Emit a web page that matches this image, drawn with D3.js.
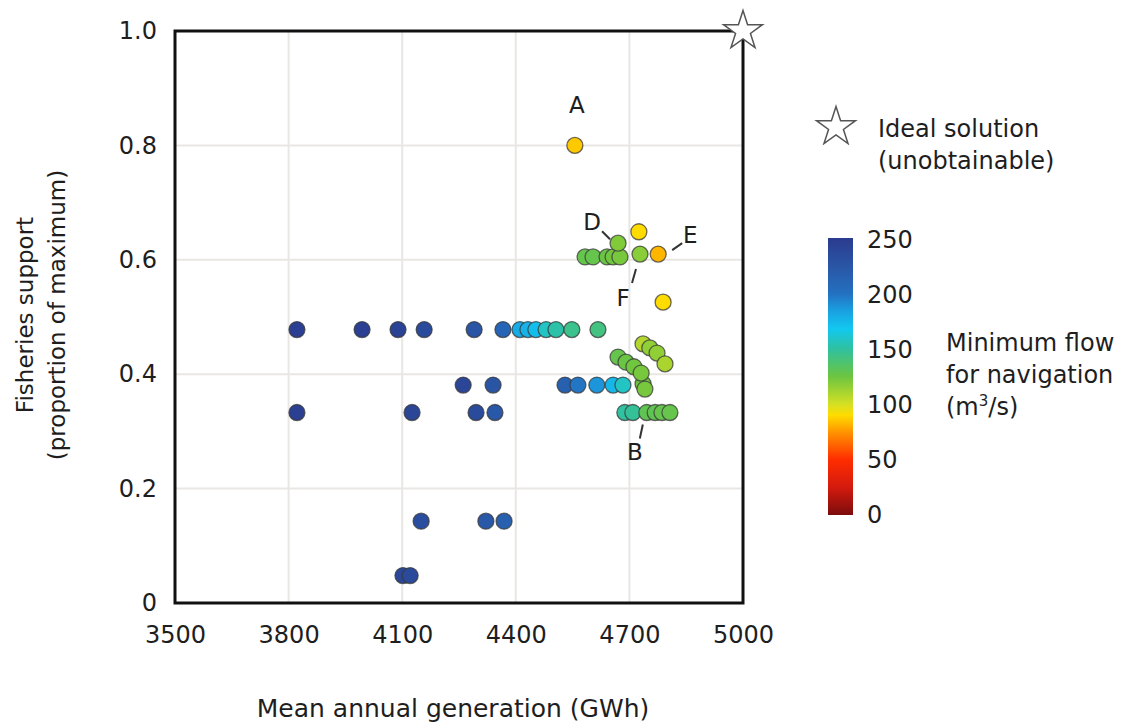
<!DOCTYPE html>
<html>
<head>
<meta charset="utf-8">
<script src="https://cdn.jsdelivr.net/npm/d3@7"></script>
<style>
    body { margin: 0; background: #fff; }
    svg text { font-family: "DejaVu Sans", sans-serif; fill: #1e1e1e; }
</style>
</head>
<body>
<div id="chart"></div>
<script>
// Mean annual generation (GWh) for each solution
const generation = [
    3822, 3994, 4089, 4158, 4290, 4366, 4411, 4432, 4453, 4480, 4506, 4548, 4617,
    4261, 4340, 4530, 4564, 4614, 4657, 4683, 4736, 4741,
    4670, 4691, 4712, 4731,
    4736, 4754, 4773, 4794,
    3822, 4126, 4295, 4345, 4688, 4709, 4746, 4768, 4786, 4807,
    4150, 4321, 4369,
    4102, 4121,
    4583, 4604, 4641, 4657, 4675, 4670, 4728, 4776, 4725, 4789,
    4556
];

// Fisheries support (proportion of maximum)
const fisheries = [
    0.478, 0.478, 0.478, 0.478, 0.478, 0.478, 0.478, 0.478, 0.478, 0.478, 0.478, 0.478, 0.478,
    0.381, 0.381, 0.381, 0.381, 0.381, 0.381, 0.381, 0.383, 0.374,
    0.430, 0.421, 0.413, 0.402,
    0.453, 0.446, 0.437, 0.418,
    0.333, 0.333, 0.333, 0.333, 0.333, 0.333, 0.333, 0.333, 0.333, 0.333,
    0.143, 0.143, 0.143,
    0.048, 0.048,
    0.605, 0.605, 0.605, 0.605, 0.605, 0.629, 0.610, 0.610, 0.649, 0.526,
    0.800
];

// Minimum flow for navigation (m3/s)
const minFlow = [
    245, 245, 242, 235, 225, 210, 180, 177, 172, 158, 152, 145, 142,
    240, 225, 215, 198, 188, 175, 158, 125, 122,
    128, 126, 124, 122,
    108, 116, 116, 110,
    245, 240, 235, 222, 150, 148, 130, 130, 128, 128,
    232, 222, 215,
    238, 235,
    128, 128, 126, 124, 122, 120, 118, 82, 90, 90,
    86
];

const xTicks = [3500, 3800, 4100, 4400, 4700, 5000];
const yTicks = [0, 0.2, 0.4, 0.6, 0.8, 1.0];
const flowTicks = [0, 50, 100, 150, 200, 250];

// Colour map of the flow bar (jet-like)
const colorStops = [0, 25, 50, 75, 90, 100, 125, 150, 168, 185, 200, 225, 250];
const colorHex = ["#7b0c0c", "#d41a0e", "#ff2d00", "#ff9500", "#ffdc00", "#d4e024", "#6cc540",
    "#2fc1a0", "#12c8f0", "#1a9ee0", "#2470c0", "#2a55a5", "#2b3b8e"];

// Labelled solutions: point they refer to, plus label / leader offsets
const labelNames = ["A", "D", "E", "F", "B"];
const labelGen = [4556, 4670, 4776, 4728, 4746];
const labelFish = [0.800, 0.629, 0.610, 0.610, 0.333];

const idealPoint = {gen: 5000, fish: 1.0};

const width = 1143, height = 723;
const margin = {top: 31, right: 400, bottom: 120, left: 175};
const plotW = 743 - margin.left;
const plotH = 603 - margin.top;

const svg = d3.select("#chart")
    .append("svg")
    .attr("width", width)
    .attr("height", height);

const g = svg.append("g")
    .attr("transform", "translate(" + margin.left + "," + margin.top + ")");

const xScale = d3.scaleLinear().domain([3500, 5000]).range([0, plotW]);
const yScale = d3.scaleLinear().domain([0, 1]).range([plotH, 0]);

const colorScale = d3.scaleLinear()
    .domain(colorStops)
    .range(colorHex)
    .interpolate(d3.interpolateRgb);

// Grid lines
g.append("g")
    .selectAll("line")
    .data(xTicks.slice(1, -1))
    .join("line")
        .attr("x1", d => xScale(d))
        .attr("x2", d => xScale(d))
        .attr("y1", 0)
        .attr("y2", plotH)
        .attr("stroke", "#e9e7e3")
        .attr("stroke-width", 2);

g.append("g")
    .selectAll("line")
    .data(yTicks.slice(1, -1))
    .join("line")
        .attr("y1", d => yScale(d))
        .attr("y2", d => yScale(d))
        .attr("x1", 0)
        .attr("x2", plotW)
        .attr("stroke", "#e9e7e3")
        .attr("stroke-width", 2);

// Axes (labels only, the frame is drawn separately)
const xAxis = d3.axisBottom(xScale).tickValues(xTicks).tickSize(0).tickPadding(23).tickFormat(d3.format("d"));
const xAxisGroup = g.append("g")
    .attr("transform", "translate(0," + plotH + ")")
    .call(xAxis);
xAxisGroup.select(".domain").remove();
xAxisGroup.selectAll("text")
    .style("font-size", "24px")
    .style("fill", "#1e1e1e");

const yAxis = d3.axisLeft(yScale).tickValues(yTicks).tickSize(0).tickPadding(18)
    .tickFormat(d => d === 0 ? "0" : d.toFixed(1));
const yAxisGroup = g.append("g").call(yAxis);
yAxisGroup.select(".domain").remove();
yAxisGroup.selectAll("text")
    .style("font-size", "24px")
    .style("fill", "#1e1e1e");

// Frame
g.append("rect")
    .attr("x", 0)
    .attr("y", 0)
    .attr("width", plotW)
    .attr("height", plotH)
    .attr("fill", "none")
    .attr("stroke", "#111")
    .attr("stroke-width", 3);

// Points
const points = generation.map((gen, i) => ({gen, fish: fisheries[i], flow: minFlow[i]}));

g.append("g")
    .selectAll("circle")
    .data(points)
    .join("circle")
        .attr("cx", d => xScale(d.gen))
        .attr("cy", d => yScale(d.fish))
        .attr("r", 8)
        .attr("fill", d => colorScale(d.flow))
        .attr("stroke", "#3a3a3a")
        .attr("stroke-opacity", 0.75)
        .attr("stroke-width", 1.3);

// Solution labels with short leader lines
const labelOffsets = {
    A: {tx: 2, ty: -40, line: null},
    D: {tx: -26, ty: -21, line: [-16, -12, -8, -4]},
    E: {tx: 32, ty: -19, line: [24, -11, 14, -4]},
    F: {tx: -17, ty: 44, line: [-4, 15, -8, 29]},
    B: {tx: -12, ty: 39, line: [-4, 12, -7, 26]}
};

labelNames.forEach((name, i) => {
    const px = xScale(labelGen[i]);
    const py = yScale(labelFish[i]);
    const off = labelOffsets[name];
    g.append("text")
        .attr("x", px + off.tx)
        .attr("y", py + off.ty)
        .attr("text-anchor", "middle")
        .attr("dominant-baseline", "central")
        .style("font-size", "23px")
        .text(name);
    if (off.line) {
        g.append("line")
            .attr("x1", px + off.line[0])
            .attr("y1", py + off.line[1])
            .attr("x2", px + off.line[2])
            .attr("y2", py + off.line[3])
            .attr("stroke", "#333")
            .attr("stroke-width", 2);
    }
});

// Ideal solution star at the corner
const star = d3.symbol().type(d3.symbolStar).size(470);
g.append("path")
    .attr("d", star())
    .attr("transform", "translate(" + xScale(idealPoint.gen) + "," + yScale(idealPoint.fish) + ")")
    .attr("fill", "#fff")
    .attr("stroke", "#555")
    .attr("stroke-width", 1.5);

// Axis titles
svg.append("text")
    .attr("x", 453)
    .attr("y", 708)
    .attr("text-anchor", "middle")
    .attr("dominant-baseline", "central")
    .style("font-size", "25px")
    .text("Mean annual generation (GWh)");

const yTitle = svg.append("text")
    .attr("transform", "translate(0,315) rotate(-90)")
    .attr("text-anchor", "middle")
    .style("font-size", "23px");
yTitle.append("tspan").attr("x", 0).attr("y", 33).text("Fisheries support");
yTitle.append("tspan").attr("x", 0).attr("y", 65).text("(proportion of maximum)");

// Legend: ideal solution
svg.append("path")
    .attr("d", star())
    .attr("transform", "translate(836,127)")
    .attr("fill", "#fff")
    .attr("stroke", "#555")
    .attr("stroke-width", 1.5);

const idealText = svg.append("text").style("font-size", "24px");
idealText.append("tspan").attr("x", 878).attr("y", 137).text("Ideal solution");
idealText.append("tspan").attr("x", 878).attr("y", 169).text("(unobtainable)");

// Colour bar
const barX = 828, barW = 25;
const flowScale = d3.scaleLinear().domain([0, 250]).range([515, 240]);

const grad = svg.append("defs")
    .append("linearGradient")
    .attr("id", "flowGradient")
    .attr("x1", 0).attr("x2", 0)
    .attr("y1", 1).attr("y2", 0);
grad.selectAll("stop")
    .data(colorStops)
    .join("stop")
        .attr("offset", d => d / 250)
        .attr("stop-color", d => colorScale(d));

svg.append("rect")
    .attr("x", barX)
    .attr("y", flowScale(250) - 2)
    .attr("width", barW)
    .attr("height", flowScale(0) - flowScale(250) + 2)
    .attr("fill", "url(#flowGradient)");

const flowAxisGroup = svg.append("g")
    .attr("transform", "translate(" + (barX + barW) + ",0)")
    .call(d3.axisRight(flowScale).tickValues(flowTicks).tickSize(0).tickPadding(14));
flowAxisGroup.select(".domain").remove();
flowAxisGroup.selectAll("text")
    .style("font-size", "24px")
    .style("fill", "#1e1e1e");

const flowTitle = svg.append("text").style("font-size", "24px");
flowTitle.append("tspan").attr("x", 946).attr("y", 351).text("Minimum flow");
flowTitle.append("tspan").attr("x", 946).attr("y", 383).text("for navigation");
flowTitle.append("tspan").attr("x", 946).attr("y", 415).text("(m");
flowTitle.append("tspan").attr("dy", -9).style("font-size", "15px").text("3");
flowTitle.append("tspan").attr("dy", 9).text("/s)");
</script>
</body>
</html>
